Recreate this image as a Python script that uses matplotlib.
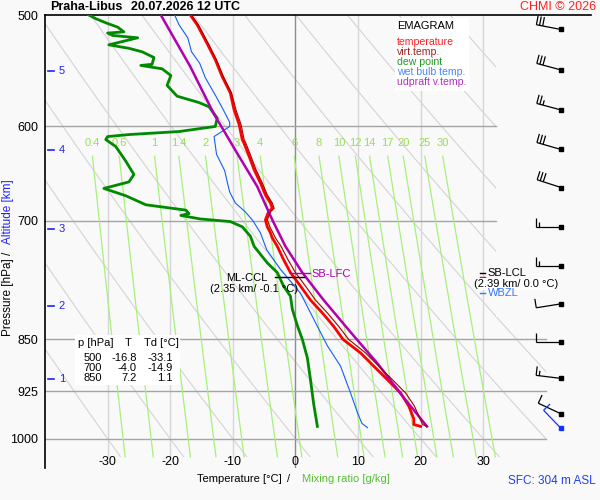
import numpy as np
import matplotlib
matplotlib.use("Agg")
import matplotlib.pyplot as plt
from matplotlib.patches import Polygon, Rectangle
from matplotlib.collections import LineCollection
from matplotlib.transforms import IdentityTransform

plt.rcParams["font.family"] = ["Liberation Sans", "DejaVu Sans"]

# ---- sounding (hPa, degC) ----
temp_p = [500, 508, 524, 538, 553, 568, 584, 598, 613, 617, 630, 644, 658, 671,
          680, 686, 690, 699, 707, 714, 720, 730, 746, 762, 779, 797, 814, 832,
          850, 869, 888, 908, 928, 948, 968, 977, 980]
temp_t = [-16.8, -15.7, -14.1, -12.8, -11.7, -10.4, -9.8, -9.0, -8.5, -8.2, -7.4,
          -6.6, -5.6, -4.8, -4.0, -3.7, -4.3, -4.8, -4.5, -4.0, -3.7, -2.9, -1.9,
          -0.8, 0.8, 2.4, 4.3, 6.1, 7.6, 10.4, 12.5, 14.7, 16.8, 18.1, 18.9, 18.9,
          20.0]
virt_t = [-16.6, -15.5, -13.9, -12.6, -11.5, -10.2, -9.5, -8.7, -8.2, -7.9, -7.1,
          -6.3, -5.3, -4.5, -3.7, -3.4, -4.0, -4.5, -4.1, -3.6, -3.2, -2.3, -1.2,
          0.0, 1.6, 3.2, 5.1, 6.9, 8.5, 11.2, 13.3, 15.5, 17.6, 19.0, 19.9, 20.3,
          21.0]

dew_p = [500, 503, 507, 510, 514, 515, 517, 519, 525, 528, 531, 536, 542, 543,
         546, 552, 561, 571, 577, 581, 592, 600, 605, 608, 610, 613, 620, 635,
         649, 657, 664, 672, 682, 688, 692, 694, 698, 701, 707, 718, 730, 750,
         762, 779, 792, 809, 831, 850, 876, 908, 944, 980]
dew_t = [-33.0, -31.9, -30.0, -28.4, -27.4, -30.0, -29.2, -25.2, -29.8, -26.6,
         -24.5, -22.6, -22.9, -24.7, -21.3, -19.9, -20.5, -18.9, -15.4, -13.8,
         -12.5, -12.8, -18.6, -26.6, -30.0, -30.3, -28.7, -27.1, -25.8, -26.6,
         -30.6, -27.1, -23.9, -17.5, -17.0, -18.3, -15.2, -10.4, -8.5, -7.2,
         -6.6, -4.5, -2.9, -1.9, -0.8, -0.5, 0.3, 1.1, 1.9, 2.4, 2.9, 3.5]

wet_p = [500, 508, 519, 531, 541, 554, 570, 583, 596, 600, 606, 610, 628, 645,
         657, 668, 680, 690, 700, 714, 734, 758, 788, 822, 859, 888, 928, 958,
         975, 982]
wet_t = [-19.3, -18.6, -17.2, -16.6, -15.3, -14.4, -12.8, -11.6, -10.5, -10.5,
         -12.0, -13.0, -12.6, -11.3, -10.9, -10.5, -9.6, -8.0, -6.8, -5.6, -4.6,
         -2.4, 0.8, 2.9, 5.1, 7.2, 8.8, 9.9, 10.6, 11.5]

parcel_p = [500, 544, 587, 613, 627, 662, 699, 730, 762, 797, 840, 884, 935, 980]
parcel_t = [-21.5, -16.8, -13.1, -10.6, -9.3, -6.1, -3.7, -1.6, 1.1, 4.5, 8.8,
            13.1, 17.3, 21.0]

# wind profile (hPa, kt, deg)
wind_p = [512, 547, 584, 623, 663, 707, 754, 802, 853, 906, 960]
wind_spd = [30, 30, 25, 30, 30, 15, 15, 10, 10, 15, 10]
wind_dir = [281, 285, 285, 286, 288, 270, 270, 261, 270, 277, 295]
sfc_p, sfc_spd, sfc_dir = 983, 10, 316

table_levels = ["500", "700", "850"]
table_t = ["-16.8", "-4.0", "7.2"]
table_td = ["-33.1", "-14.9", "1.1"]

mix_ratios = [0.4, 0.6, 1, 1.4, 2, 3, 4, 6, 8, 10, 12, 14, 17, 20, 25, 30]
mix_labels = ["0.4", "0.6", "1", "1.4", "2", "3", "4", "6", "8", "10", "12",
              "14", "17", "20", "25", "30"]
alt_km = [1, 2, 3, 4, 5]
alt_p = [907, 805, 709, 624, 548]
p_ticks = [500, 600, 700, 850, 925, 1000]
t_ticks = [-30, -20, -10, 0, 10, 20, 30]
theta_c = list(range(-30, 101, 10))

BG = "#f9f9f9"
RED = "#ff0000"
VIRT = "#a00000"
DEW = "#008a00"
WET = "#1060ff"
UPD = "#b000b0"
MIXC = "#a8f07c"
BARB_X = 42.4


def fx(x):
    return x / 600.0


def fy(y):
    return 1.0 - y / 500.0


fig = plt.figure(figsize=(6, 5), dpi=100, facecolor=BG)
ax = fig.add_axes([fx(45), fy(468), 546 / 600.0, 453 / 500.0])
ax.set_facecolor(BG)
ax.set_yscale("log")
ax.set_ylim(1049, 500)
ax.set_xlim(-40, 47.2)
for s in ("right", "bottom"):
    ax.spines[s].set_visible(False)
for s in ("left", "top"):
    ax.spines[s].set_linewidth(1.2)
ax.set_yticks(p_ticks)
ax.set_yticklabels([str(p) for p in p_ticks])
ax.yaxis.set_minor_locator(matplotlib.ticker.NullLocator())
ax.set_xticks([])
ax.tick_params(axis="y", length=0, pad=5, labelsize=9)

# ---- background grid ----
clip = Polygon([(-40, 500), (32, 500), (32, 820), (40, 820), (40, 1030),
                (-40, 1030)], transform=ax.transData)

pp = np.geomspace(500, 1030, 80)
for th in theta_c:
    tt = (th + 273.15) * (pp / 1000.0) ** 0.286 - 273.15
    ln, = ax.plot(tt, pp, color="#d4d4d4", lw=0.8, zorder=1)
    ln.set_clip_path(clip)

for t in t_ticks:
    if t == 0:
        ax.plot([0, 0], [500, 1049], color="#8c8c8c", lw=1, zorder=1)
    else:
        ax.plot([t, t], [500, 1030], color="#d6d6d6", lw=1, zorder=1)

for p in p_ticks[1:]:
    xmax = 32 if p < 820 else 40
    ax.plot([-40, xmax], [p, p], color="#a4a4a4", lw=1, zorder=1)

pm = np.geomspace(630, 1030, 40)
for w, lab in zip(mix_ratios, mix_labels):
    e = w * pm / (622.0 + w)
    a = np.log(e / 6.112)
    tm = 243.5 * a / (17.67 - a)
    ax.plot(tm, pm, color=MIXC, lw=0.9, zorder=1)
    ax.text(tm[0], 616, lab, color="#99dd55", fontsize=8, ha="center",
            va="center", zorder=2)

# ---- sounding ----
ax.plot(temp_t, temp_p, color=RED, lw=2.0, zorder=4)
ax.plot(virt_t, temp_p, color=VIRT, lw=0.8, zorder=5)
ax.plot(wet_t, wet_p, color=WET, lw=0.8, zorder=3)
ax.plot(dew_t, dew_p, color=DEW, lw=2.0, zorder=4)
ax.plot(parcel_t, parcel_p, color=UPD, lw=1.8, zorder=4)

# ---- x tick labels inside the frame ----
xt = ax.get_xaxis_transform()
for t in t_ticks:
    ax.text(t, 0.013, str(t), transform=xt, ha="center", va="center",
            fontsize=9)

# ---- altitude scale ----
for km, p in zip(alt_km, alt_p):
    ax.plot([-39.6, -38.6], [p, p], color="#2020ff", lw=1.2, zorder=3)
    ax.text(-37.8, p, str(km), color="#2020ff", fontsize=8, ha="left",
            va="center")


# ---- wind barbs (staff towards the wind origin, barbs at the tail) ----
def barb_segments(p, spd, ddir):
    x0, y0 = ax.transData.transform((BARB_X, p))
    th = np.radians(ddir)
    d = np.array([np.sin(th), np.cos(th)])
    b = np.array([np.cos(th), -np.sin(th)])
    start = np.array([x0, y0])
    tail = start + 25 * d
    segs = [[tuple(start), tuple(tail)]]
    k = 0
    for _ in range(int(spd // 10)):
        base = tail - k * 3.2 * d
        segs.append([tuple(base), tuple(base + 9 * b)])
        k += 1
    if spd % 10 >= 5:
        base = tail - k * 3.2 * d
        segs.append([tuple(base), tuple(base + 5 * b)])
    return segs


segs = []
for p, s, dd in zip(wind_p, wind_spd, wind_dir):
    segs += barb_segments(p, s, dd)
fig.add_artist(LineCollection(segs, colors="k", linewidths=0.9,
                              transform=IdentityTransform()))
fig.add_artist(LineCollection(barb_segments(sfc_p, sfc_spd, sfc_dir),
                              colors="#1030ff", linewidths=0.9,
                              transform=IdentityTransform()))
ax.plot([BARB_X] * len(wind_p), wind_p, "s", color="k", ms=2.5,
        clip_on=False, zorder=6)
ax.plot([BARB_X], [sfc_p], "s", color="#1030ff", ms=2.5, clip_on=False,
        zorder=6)

# ---- level markers ----
ax.plot([-3.3, 1.4], [768, 768], color="k", lw=1, zorder=6)
ax.plot([-0.8, 2.4], [762, 762], color=UPD, lw=1, zorder=6)
fig.text(fx(247), fy(278), "ML-CCL", fontsize=8, ha="center", va="center")
fig.text(fx(254), fy(289), "(2.35 km/ -0.1 \u00b0C)", fontsize=8, ha="center",
         va="center")
fig.text(fx(311), fy(274), "SB-LFC", fontsize=8, color=UPD, ha="left",
         va="center")

fig.add_artist(Rectangle((fx(477), fy(290)), 79 / 600.0, 12 / 500.0,
                         transform=fig.transFigure, facecolor="white",
                         edgecolor="none", zorder=5))
fig.lines.append(plt.Line2D([fx(480), fx(485)], [fy(273), fy(273)],
                            transform=fig.transFigure, color="k", lw=1))
fig.lines.append(plt.Line2D([fx(480), fx(485)], [fy(277), fy(277)],
                            transform=fig.transFigure, color=RED, lw=1))
fig.lines.append(plt.Line2D([fx(480), fx(485)], [fy(293), fy(293)],
                            transform=fig.transFigure, color="#3377ff", lw=1))
fig.text(fx(487), fy(273), "SB-LCL", fontsize=8, ha="left", va="center",
         zorder=6)
fig.text(fx(516), fy(284), "(2.39 km/ 0.0 \u00b0C)", fontsize=8,
         ha="center", va="center", zorder=6)
fig.text(fx(488), fy(293), "WBZL", fontsize=8, color="#3377ff", ha="left",
         va="center", zorder=6)

# ---- legend box ----
fig.add_artist(Rectangle((fx(395), fy(91)), 74 / 600.0, 73 / 500.0,
                         transform=fig.transFigure, facecolor="white",
                         edgecolor="none", zorder=5))
fig.text(fx(397), fy(26), "EMAGRAM", fontsize=8, ha="left", va="center",
         zorder=6)
legend_items = [("temperature", "#ff2020"), ("virt.temp.", "#a02020"),
                ("dew point", "#229922"), ("wet bulb temp.", "#4488ff"),
                ("udpraft v.temp.", "#b030c0")]
for i, (txt, col) in enumerate(legend_items):
    fig.text(fx(397), fy(42 + 10 * i), txt, fontsize=7.6, color=col,
             ha="left", va="center", zorder=6)

# ---- table ----
fig.add_artist(Rectangle((fx(75), fy(385)), 105 / 600.0, 50 / 500.0,
                         transform=fig.transFigure, facecolor="white",
                         edgecolor="none", zorder=5))
fig.text(fx(78), fy(343), "p [hPa]", fontsize=8, ha="left", va="center",
         zorder=6)
fig.text(fx(128), fy(343), "T", fontsize=8, ha="center", va="center",
         zorder=6)
fig.text(fx(144), fy(343), "Td [\u00b0C]", fontsize=8, ha="left",
         va="center", zorder=6)
for i, (lv, t, td) in enumerate(zip(table_levels, table_t, table_td)):
    yy = fy(358 + 10 * i)
    fig.text(fx(102), yy, lv, fontsize=8, ha="right", va="center", zorder=6)
    fig.text(fx(137), yy, t, fontsize=8, ha="right", va="center", zorder=6)
    fig.text(fx(173), yy, td, fontsize=8, ha="right", va="center", zorder=6)

# ---- titles and axis labels ----
fig.text(fx(50), fy(7), "Praha-Libus", fontsize=9, weight="bold",
         ha="left", va="center")
fig.text(fx(131), fy(7), "20.07.2026 12 UTC", fontsize=9, weight="bold",
         ha="left", va="center")
fig.text(fx(596), fy(7), "CHMI \u00a9 2026", fontsize=9, color="#ff2020",
         ha="right", va="center")
fig.text(fx(197), fy(479), "Temperature [\u00b0C]", fontsize=8,
         ha="left", va="center")
fig.text(fx(289), fy(479), "/", fontsize=8, ha="center", va="center")
fig.text(fx(302), fy(479), "Mixing ratio [g/kg]", fontsize=8,
         color="#55c030", ha="left", va="center")
fig.text(fx(8), fy(297), "Pressure [hPa]", fontsize=8.5, rotation=90,
         ha="center", va="center")
fig.text(fx(8), fy(253), "/", fontsize=8.5, rotation=90, ha="center",
         va="center")
fig.text(fx(8), fy(212), "Altitude [km]", fontsize=8.5, rotation=90,
         color="#2020ff", ha="center", va="center")
fig.text(fx(596), fy(481), "SFC: 304 m ASL", fontsize=8.5, color="#2040f0",
         ha="right", va="center")

fig.savefig("out.png", dpi=100, facecolor=BG)
